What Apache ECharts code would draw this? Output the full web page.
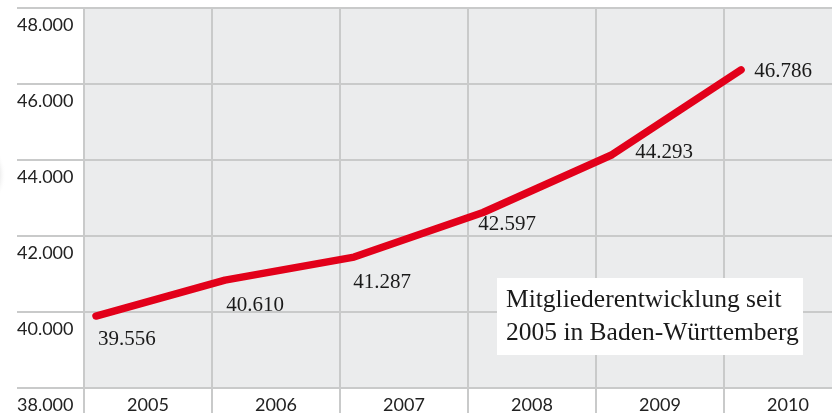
<!DOCTYPE html>
<html>
<head>
<meta charset="utf-8">
<script src="https://cdn.jsdelivr.net/npm/echarts@6/dist/echarts.min.js"></script>
<style>
html,body{margin:0;padding:0;background:#fff;}
#chart{width:832px;height:417px;}
</style>
</head>
<body>
<div id="chart"></div>
<script>
// Data
var years = ['2005', '2006', '2007', '2008', '2009', '2010'];
var yearValues = [2005, 2006, 2007, 2008, 2009, 2010];
var members = [39556, 40610, 41287, 42597, 44293, 46786];
var labelTexts = ['39.556', '40.610', '41.287', '42.597', '44.293', '46.786'];
var titleLines = ['Mitgliederentwicklung seit', '2005 in Baden-Württemberg'];
// per-label placement offsets (style only)
var labelOffsets = [[31, 23], [30, 25], [28, 25], [24, 12], [52, -2], [42, 2]];

var gridColor = '#c9caca';
var chart = echarts.init(document.getElementById('chart'), null, {renderer: 'canvas'});

var lineData = members.map(function (v, i) {
  return {
    value: [yearValues[i], v],
    label: {
      show: true,
      position: 'inside',
      offset: labelOffsets[i],
      formatter: labelTexts[i]
    }
  };
});

chart.setOption({
  animation: false,
  backgroundColor: '#ffffff',
  grid: {
    left: 84, top: 8, width: 768, height: 380,
    outerBoundsMode: 'none',
    containLabel: false,
    show: true, backgroundColor: '#ebeced', borderWidth: 0
  },
  xAxis: [{
    type: 'category',
    data: years,
    boundaryGap: true,
    axisLine: {show: false},
    axisTick: {show: true, length: 25, inside: false, lineStyle: {color: gridColor, width: 2}},
    splitLine: {show: true, lineStyle: {color: gridColor, width: 2}},
    axisLabel: {
      fontFamily: 'Lato', fontSize: 18, color: '#222', margin: 8
    }
  }, {
    type: 'value', show: false, min: 2004.907, max: 2010.86
  }],
  yAxis: [{
    type: 'value',
    min: 38000, max: 48000, interval: 2000,
    axisLine: {show: true, lineStyle: {color: gridColor, width: 2}},
    axisTick: {show: true, length: 67, inside: false, lineStyle: {color: gridColor, width: 2}},
    splitLine: {show: true, lineStyle: {color: gridColor, width: 2}},
    axisLabel: {
      fontFamily: 'Lato', fontSize: 18, color: '#222',
      align: 'left', margin: 67, verticalAlign: 'top', padding: [8, 0, 0, 0],
      formatter: function (v) { return (v / 1000).toFixed(3); }
    }
  }, {
    type: 'value', show: false, min: 37442, max: 48602
  }],
  series: [{
    type: 'line',
    xAxisIndex: 1,
    yAxisIndex: 1,
    data: lineData,
    symbol: 'circle',
    symbolSize: 1,
    itemStyle: {color: 'rgba(0,0,0,0)', borderWidth: 0},
    lineStyle: {color: '#e2001a', width: 7.5, cap: 'round', join: 'round'},
    label: {
      show: true,
      fontFamily: 'Liberation Serif', fontSize: 21, color: '#1a1a1a'
    },
    z: 5
  }],
  graphic: [{
    type: 'ellipse',
    shape: {cx: -34, cy: 175, rx: 40, ry: 95},
    style: {
      fill: {
        type: 'radial', x: 0.5, y: 0.5, r: 0.5,
        colorStops: [{offset: 0, color: 'rgba(150,150,150,0.6)'}, {offset: 0.85, color: 'rgba(200,200,200,0.3)'}, {offset: 1, color: 'rgba(255,255,255,0)'}]
      }
    },
    silent: true, z: 0
  }, {
    type: 'rect',
    shape: {x: 497, y: 278, width: 306, height: 77},
    style: {fill: '#ffffff'},
    z: 10
  }, {
    type: 'text',
    x: 506, y: 284,
    style: {
      text: titleLines.join('\n'),
      fontFamily: 'Liberation Serif', fontSize: 25.5, lineHeight: 33,
      fill: '#1a1a1a'
    },
    z: 11
  }]
});
</script>
</body>
</html>
